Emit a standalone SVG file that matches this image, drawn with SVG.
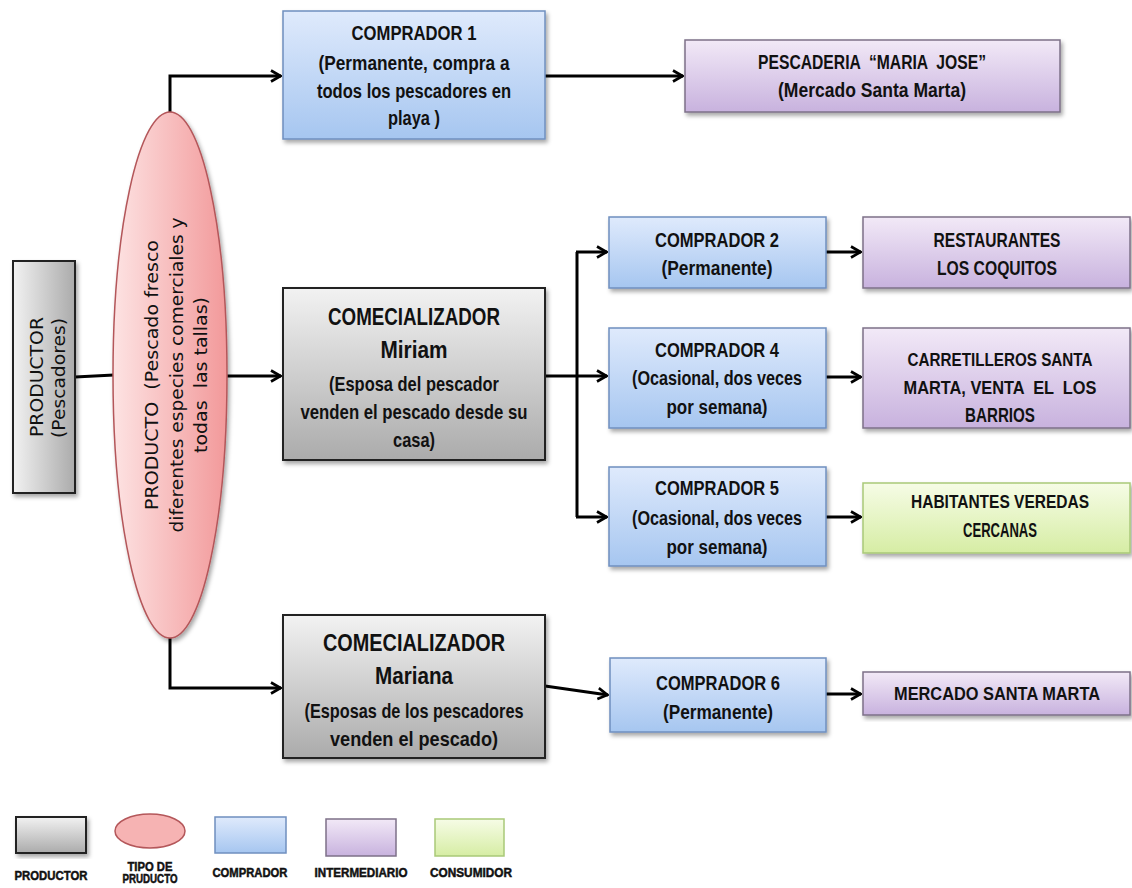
<svg xmlns="http://www.w3.org/2000/svg" width="1132" height="888" viewBox="0 0 1132 888">
<defs>
<linearGradient id="gGray" x1="0" y1="0" x2="0" y2="1"><stop offset="0" stop-color="#f2f2f2"/><stop offset="1" stop-color="#ababab"/></linearGradient>
<linearGradient id="gGrayH" x1="0" y1="0" x2="1" y2="0"><stop offset="0" stop-color="#f2f2f2"/><stop offset="1" stop-color="#ababab"/></linearGradient>
<linearGradient id="gBlue" x1="0" y1="0" x2="0" y2="1"><stop offset="0" stop-color="#dfeafc"/><stop offset="1" stop-color="#a6c6f0"/></linearGradient>
<linearGradient id="gPurple" x1="0" y1="0" x2="0" y2="1"><stop offset="0" stop-color="#f2e9f7"/><stop offset="1" stop-color="#c8b2de"/></linearGradient>
<linearGradient id="gGreen" x1="0" y1="0" x2="0" y2="1"><stop offset="0" stop-color="#f6fce6"/><stop offset="1" stop-color="#d6eda4"/></linearGradient>
<linearGradient id="gPink" x1="0" y1="0" x2="1" y2="0"><stop offset="0" stop-color="#fde3e3"/><stop offset="1" stop-color="#f2999a"/></linearGradient>
<filter id="sh" x="-10%" y="-10%" width="125%" height="125%"><feDropShadow dx="2" dy="3" stdDeviation="2" flood-color="#000" flood-opacity="0.35"/></filter>
<marker id="arr" viewBox="0 0 12 14" refX="11" refY="7" markerWidth="12" markerHeight="14" markerUnits="userSpaceOnUse" orient="auto"><path d="M1,1.5 L10.5,7 L1,12.5" fill="none" stroke="#000" stroke-width="2.6"/></marker>
</defs>
<style>
.gray{fill:url(#gGray);stroke:#222;stroke-width:2}
.blue{fill:url(#gBlue);stroke:#6f8fbf;stroke-width:1.5}
.purple{fill:url(#gPurple);stroke:#7d7088;stroke-width:1.5}
.green{fill:url(#gGreen);stroke:#a9c978;stroke-width:1.5}
.pink{fill:url(#gPink);stroke:#b4575a;stroke-width:1.5}
.t{font-family:"Liberation Sans",Arial,sans-serif;font-weight:bold;font-size:20px;fill:#111;text-anchor:middle;dominant-baseline:central;white-space:pre}
.tb{font-size:24px}
.tm{font-size:21px}
.ts{font-size:18px}
.v{font-family:"DejaVu Sans",Verdana,sans-serif;font-size:18px;fill:#111;text-anchor:middle;dominant-baseline:central;white-space:pre}
.lg{font-family:"Liberation Sans",Arial,sans-serif;font-weight:bold;font-size:13px;fill:#111;stroke:#111;stroke-width:0.5;text-anchor:middle;dominant-baseline:central}
.c{fill:none;stroke:#000;stroke-width:3}
</style>
<rect width="1132" height="888" fill="#fff"/>

<g id="connectors">
<path class="c" d="M170,112 V76 H281" marker-end="url(#arr)"/>
<path class="c" d="M545,76 H683" marker-end="url(#arr)"/>
<path class="c" d="M75,377 L114,375"/>
<path class="c" d="M227,376 H281" marker-end="url(#arr)"/>
<path class="c" d="M545,376 H577"/>
<path class="c" d="M577,252 V517"/>
<path class="c" d="M576,252 H607" marker-end="url(#arr)"/>
<path class="c" d="M577,376 H607" marker-end="url(#arr)"/>
<path class="c" d="M576,517 H607" marker-end="url(#arr)"/>
<path class="c" d="M826,252 H861" marker-end="url(#arr)"/>
<path class="c" d="M826,377 H861" marker-end="url(#arr)"/>
<path class="c" d="M826,517 H861" marker-end="url(#arr)"/>
<path class="c" d="M170,637 V688 H281" marker-end="url(#arr)"/>
<path class="c" d="M545,686 L608,695" marker-end="url(#arr)"/>
<path class="c" d="M826,694 H861" marker-end="url(#arr)"/>
</g>

<g id="productor">
<rect class="gray" x="13" y="261" width="62" height="232" style="fill:url(#gGrayH)" filter="url(#sh)"/>
<text class="v" transform="translate(36,377) rotate(-90)" textLength="120" lengthAdjust="spacingAndGlyphs">PRODUCTOR</text>
<text class="v" transform="translate(58,378) rotate(-90)" textLength="120" lengthAdjust="spacingAndGlyphs">(Pescadores)</text>
</g>

<g id="producto">
<ellipse class="pink" cx="170" cy="375" rx="57" ry="263" filter="url(#sh)"/>
<text class="v" transform="translate(151,375) rotate(-90)" textLength="270" lengthAdjust="spacingAndGlyphs">PRODUCTO  (Pescado fresco</text>
<text class="v" transform="translate(176,375) rotate(-90)" textLength="315" lengthAdjust="spacingAndGlyphs">diferentes especies comerciales y</text>
<text class="v" transform="translate(200,375) rotate(-90)" textLength="156" lengthAdjust="spacingAndGlyphs">todas  las tallas)</text>
</g>

<g id="comprador1">
<rect class="blue" x="283" y="11" width="262" height="128" filter="url(#sh)"/>
<text class="t" x="414" y="33" textLength="125" lengthAdjust="spacingAndGlyphs">COMPRADOR 1</text>
<text class="t" x="414" y="63" textLength="191" lengthAdjust="spacingAndGlyphs">(Permanente, compra a</text>
<text class="t" x="414" y="91" textLength="194" lengthAdjust="spacingAndGlyphs">todos los pescadores en</text>
<text class="t" x="414" y="118" textLength="52" lengthAdjust="spacingAndGlyphs">playa )</text>
</g>

<g id="pescaderia">
<rect class="purple" x="685" y="40" width="375" height="72" filter="url(#sh)"/>
<text class="t" x="872" y="62" textLength="228" lengthAdjust="spacingAndGlyphs">PESCADERIA  “MARIA  JOSE”</text>
<text class="t" x="872" y="90" textLength="188" lengthAdjust="spacingAndGlyphs">(Mercado Santa Marta)</text>
</g>

<g id="miriam">
<rect class="gray" x="283" y="288" width="262" height="172" filter="url(#sh)"/>
<text class="t tb" x="414" y="316" textLength="172" lengthAdjust="spacingAndGlyphs">COMECIALIZADOR</text>
<text class="t tb" x="414" y="349" textLength="67" lengthAdjust="spacingAndGlyphs">Miriam</text>
<text class="t tm" x="414" y="383" textLength="170" lengthAdjust="spacingAndGlyphs">(Esposa del pescador</text>
<text class="t tm" x="414" y="411" textLength="227" lengthAdjust="spacingAndGlyphs">venden el pescado desde su</text>
<text class="t tm" x="414" y="439" textLength="42" lengthAdjust="spacingAndGlyphs">casa)</text>
</g>

<g id="comprador2">
<rect class="blue" x="609" y="217" width="217" height="71" filter="url(#sh)"/>
<text class="t" x="717" y="240" textLength="124" lengthAdjust="spacingAndGlyphs">COMPRADOR 2</text>
<text class="t" x="717" y="268" textLength="111" lengthAdjust="spacingAndGlyphs">(Permanente)</text>
</g>

<g id="comprador4">
<rect class="blue" x="609" y="328" width="217" height="100" filter="url(#sh)"/>
<text class="t" x="717" y="350" textLength="124" lengthAdjust="spacingAndGlyphs">COMPRADOR 4</text>
<text class="t" x="717" y="378" textLength="170" lengthAdjust="spacingAndGlyphs">(Ocasional, dos veces</text>
<text class="t" x="717" y="407" textLength="101" lengthAdjust="spacingAndGlyphs">por semana)</text>
</g>

<g id="comprador5">
<rect class="blue" x="609" y="467" width="217" height="99" filter="url(#sh)"/>
<text class="t" x="717" y="488" textLength="124" lengthAdjust="spacingAndGlyphs">COMPRADOR 5</text>
<text class="t" x="717" y="518" textLength="170" lengthAdjust="spacingAndGlyphs">(Ocasional, dos veces</text>
<text class="t" x="717" y="547" textLength="101" lengthAdjust="spacingAndGlyphs">por semana)</text>
</g>

<g id="restaurantes">
<rect class="purple" x="863" y="217" width="267" height="71" filter="url(#sh)"/>
<text class="t" x="997" y="240" textLength="127" lengthAdjust="spacingAndGlyphs">RESTAURANTES</text>
<text class="t" x="997" y="268" textLength="120" lengthAdjust="spacingAndGlyphs">LOS COQUITOS</text>
</g>

<g id="carretilleros">
<rect class="purple" x="863" y="328" width="267" height="100" filter="url(#sh)"/>
<text class="t ts" x="1000" y="360" textLength="185" lengthAdjust="spacingAndGlyphs">CARRETILLEROS SANTA</text>
<text class="t ts" x="1000" y="388" textLength="193" lengthAdjust="spacingAndGlyphs">MARTA, VENTA  EL  LOS</text>
<text class="t" x="1000" y="415" textLength="70" lengthAdjust="spacingAndGlyphs">BARRIOS</text>
</g>

<g id="habitantes">
<rect class="green" x="863" y="483" width="267" height="70" filter="url(#sh)"/>
<text class="t ts" x="1000" y="502" textLength="178" lengthAdjust="spacingAndGlyphs">HABITANTES VEREDAS</text>
<text class="t" x="1000" y="530" textLength="74" lengthAdjust="spacingAndGlyphs">CERCANAS</text>
</g>

<g id="mariana">
<rect class="gray" x="283" y="615" width="262" height="143" filter="url(#sh)"/>
<text class="t tb" x="414" y="642" textLength="182" lengthAdjust="spacingAndGlyphs">COMECIALIZADOR</text>
<text class="t tb" x="414" y="675" textLength="78" lengthAdjust="spacingAndGlyphs">Mariana</text>
<text class="t tm" x="414" y="710" textLength="219" lengthAdjust="spacingAndGlyphs">(Esposas de los pescadores</text>
<text class="t tm" x="414" y="738" textLength="168" lengthAdjust="spacingAndGlyphs">venden el pescado)</text>
</g>

<g id="comprador6">
<rect class="blue" x="610" y="658" width="216" height="74" filter="url(#sh)"/>
<text class="t" x="718" y="683" textLength="124" lengthAdjust="spacingAndGlyphs">COMPRADOR 6</text>
<text class="t" x="718" y="712" textLength="110" lengthAdjust="spacingAndGlyphs">(Permanente)</text>
</g>

<g id="mercado">
<rect class="purple" x="863" y="672" width="267" height="43" filter="url(#sh)"/>
<text class="t ts" x="997" y="694" textLength="206" lengthAdjust="spacingAndGlyphs">MERCADO SANTA MARTA</text>
</g>

<g id="legend">
<rect class="gray" x="16" y="817" width="70" height="36" filter="url(#sh)"/>
<text class="lg" x="51" y="875" textLength="73" lengthAdjust="spacingAndGlyphs">PRODUCTOR</text>
<ellipse class="pink" cx="150" cy="831" rx="35" ry="17" style="fill:#f6b3b3"/>
<text class="lg" x="150" y="866" textLength="45" lengthAdjust="spacingAndGlyphs">TIPO DE</text>
<text class="lg" x="150" y="879" style="font-size:12px" textLength="55" lengthAdjust="spacingAndGlyphs">PRUDUCTO</text>
<rect class="blue" x="215" y="817" width="71" height="36"/>
<text class="lg" x="250" y="872" textLength="75" lengthAdjust="spacingAndGlyphs">COMPRADOR</text>
<rect class="purple" x="326" y="819" width="70" height="37"/>
<text class="lg" x="361" y="872" textLength="93" lengthAdjust="spacingAndGlyphs">INTERMEDIARIO</text>
<rect class="green" x="435" y="819" width="69" height="37"/>
<text class="lg" x="471" y="872" textLength="82" lengthAdjust="spacingAndGlyphs">CONSUMIDOR</text>
</g>
</svg>
